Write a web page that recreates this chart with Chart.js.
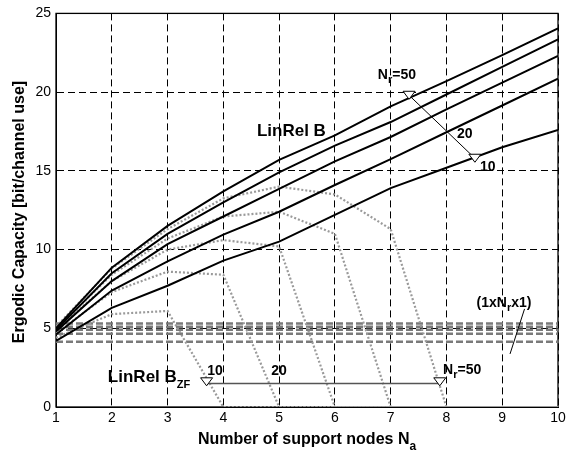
<!DOCTYPE html>
<html><head><meta charset="utf-8">
<script src="https://cdn.jsdelivr.net/npm/chart.js@4.4.0/dist/chart.umd.min.js"></script>
<style>html,body{margin:0;padding:0;background:#fff;} #wrap{width:575px;height:459px;position:relative;}</style>
</head><body><div id="wrap"><canvas id="c" width="575" height="459"></canvas></div>
<script>
// ---- data ----
const supportNodes = [1, 2, 3, 4, 5, 6, 7, 8, 9, 10];
const relayCounts = [10, 20, 30, 40, 50];
// LinRel B (solid black)
const linRelB_Nr10 = [4.2, 6.3, 7.7, 9.3, 10.5, 12.2, 13.9, 15.2, 16.5, 17.6];
const linRelB_Nr20 = [4.6, 7.4, 9.25, 10.95, 12.4, 14.1, 15.75, 17.45, 19.15, 20.85];
const linRelB_Nr30 = [4.8, 8.0, 10.35, 12.1, 13.85, 15.6, 17.15, 18.9, 20.6, 22.3];
const linRelB_Nr40 = [4.9, 8.5, 11.0, 13.0, 14.9, 16.6, 18.1, 19.85, 21.6, 23.35];
const linRelB_Nr50 = [5.0, 8.85, 11.5, 13.7, 15.7, 17.25, 19.1, 20.7, 22.35, 24.05];
// LinRel B_ZF (dotted grey)
const linRelBZF_Nr10 = [4.4, 5.9, 6.1, 0, 0, 0, 0, 0, 0, 0];
const linRelBZF_Nr20 = [4.7, 7.3, 8.6, 8.4, 0, 0, 0, 0, 0, 0];
const linRelBZF_Nr30 = [4.9, 8.0, 10.0, 10.6, 10.2, 0, 0, 0, 0, 0];
const linRelBZF_Nr40 = [5.0, 8.4, 10.7, 12.1, 12.4, 11.0, 0, 0, 0, 0];
const linRelBZF_Nr50 = [5.1, 8.8, 11.3, 13.25, 14.0, 13.5, 11.3, 0, 0, 0];
// (1 x Nr x 1) reference (dashed grey, constant)
const siso_Nr = [4.15, 4.65, 4.9, 5.1, 5.3];
const yTicks = [0, 5, 10, 15, 20, 25];

// ---- build datasets ----
const pts = arr => supportNodes.map((x, i) => ({x: x, y: arr[i]}));
const solidSets = [linRelB_Nr50, linRelB_Nr40, linRelB_Nr30, linRelB_Nr20, linRelB_Nr10];
const dottedSets = [linRelBZF_Nr50, linRelBZF_Nr40, linRelBZF_Nr30, linRelBZF_Nr20, linRelBZF_Nr10];
const datasets = [];
solidSets.forEach(a => datasets.push({data: pts(a), borderColor: '#000', borderWidth: 2, pointRadius: 0, tension: 0, fill: false}));
dottedSets.forEach(a => datasets.push({data: pts(a), borderColor: '#9a9a9a', borderWidth: 2.2, borderDash: [2, 2], pointRadius: 0, tension: 0, fill: false}));
siso_Nr.forEach(v => datasets.push({data: pts(supportNodes.map(() => v)), borderColor: '#7a7a7a', borderWidth: 2.5, borderDash: [7, 3], pointRadius: 0, tension: 0, fill: false}));

const FONT = '"Liberation Sans", Arial, sans-serif';

function drawSub(ctx, x, y, parts, align) {
  // parts: [text, size, dy]
  let total = 0;
  parts.forEach(p => { ctx.font = 'bold ' + p[1] + 'px ' + FONT; total += ctx.measureText(p[0]).width; });
  let cx = align === 'center' ? x - total / 2 : x;
  ctx.textAlign = 'left';
  ctx.textBaseline = 'middle';
  parts.forEach(p => { ctx.font = 'bold ' + p[1] + 'px ' + FONT; ctx.fillText(p[0], cx, y + p[2]); cx += ctx.measureText(p[0]).width; });
}
function tri(ctx, x, y) {
  ctx.beginPath();
  ctx.moveTo(x - 6, y - 4);
  ctx.lineTo(x + 6, y - 4);
  ctx.lineTo(x, y + 4);
  ctx.closePath();
  ctx.fillStyle = '#fff';
  ctx.fill();
  ctx.stroke();
}

const framePlugin = {
  id: 'frame',
  beforeDatasetsDraw(chart) {
    const {ctx, chartArea: a} = chart;
    ctx.save();
    ctx.strokeStyle = '#000';
    ctx.lineWidth = 1.3;
    ctx.strokeRect(a.left, a.top, a.right - a.left, a.bottom - a.top);
    ctx.restore();
  },
  afterDraw(chart) {
    const {ctx, chartArea: a} = chart;
    const xs = chart.scales.x, ys = chart.scales.y;
    const X = v => xs.getPixelForValue(v), Y = v => ys.getPixelForValue(v);
    ctx.save();
    ctx.fillStyle = '#000';
    // upper annotations
    drawSub(ctx, X(5.22), Y(17.5), [['LinRel B', 17, 0]], 'center');
    drawSub(ctx, X(6.77), Y(21.1), [['N', 14, 0], ['r', 11, 5], ['=50', 14, 0]], 'left');
    ctx.strokeStyle = '#000'; ctx.lineWidth = 1;
    ctx.beginPath(); ctx.moveTo(X(7.33), Y(19.8)); ctx.lineTo(X(8.51), Y(15.8)); ctx.stroke();
    tri(ctx, X(7.33), Y(19.8));
    tri(ctx, X(8.51), Y(15.8));
    ctx.fillStyle = '#000';
    drawSub(ctx, X(8.33), Y(17.35), [['20', 14, 0]], 'center');
    drawSub(ctx, X(8.74), Y(15.25), [['10', 14, 0]], 'center');
    // (1xNrx1)
    drawSub(ctx, X(8.54), Y(6.62), [['(1xN', 14, 0], ['r', 11, 5], ['x1)', 14, 0]], 'left');
    ctx.beginPath(); ctx.moveTo(X(9.40), Y(6.23)); ctx.lineTo(X(9.14), Y(3.37)); ctx.stroke();
    // ZF annotations
    drawSub(ctx, X(1.93), Y(1.87), [['LinRel B', 17, 0], ['ZF', 11, 7]], 'left');
    ctx.strokeStyle = '#555'; ctx.lineWidth = 1.5;
    ctx.beginPath(); ctx.moveTo(X(3.70), Y(1.5)); ctx.lineTo(X(7.88), Y(1.5)); ctx.stroke();
    ctx.strokeStyle = '#000'; ctx.lineWidth = 1;
    tri(ctx, X(3.70), Y(1.6));
    tri(ctx, X(7.88), Y(1.6));
    ctx.fillStyle = '#000';
    drawSub(ctx, X(3.85), Y(2.25), [['10', 14, 0]], 'center');
    drawSub(ctx, X(5.0), Y(2.25), [['20', 14, 0]], 'center');
    drawSub(ctx, X(7.94), Y(2.35), [['N', 14, 0], ['r', 11, 5], ['=50', 14, 0]], 'left');
    // axis titles
    drawSub(ctx, (a.left + a.right) / 2, 440, [['Number of support nodes N', 16, 0], ['a', 12, 7]], 'center');
    ctx.translate(20, 212);
    ctx.rotate(-Math.PI / 2);
    drawSub(ctx, 0, 0, [['Ergodic Capacity [bit/channel use]', 16, 0]], 'center');
    ctx.restore();
  }
};

new Chart(document.getElementById('c'), {
  type: 'line',
  data: {datasets: datasets},
  options: {
    responsive: false,
    animation: false,
    devicePixelRatio: 1,
    layout: {padding: {top: 10, right: 17, bottom: 0, left: 0}},
    plugins: {legend: {display: false}, tooltip: {enabled: false}},
    scales: {
      x: {
        type: 'linear', min: 1, max: 10,
        afterFit: s => { s.height = 52; },
        ticks: {stepSize: 1, color: '#000', font: {family: FONT, size: 14}, padding: 3, maxRotation: 0},
        grid: {color: '#000', lineWidth: 1, drawTicks: false},
        border: {display: true, color: '#000', width: 1, dash: [7, 4]}
      },
      y: {
        min: 0, max: 25,
        afterFit: s => { s.width = 56; },
        afterBuildTicks: s => { s.ticks = yTicks.map(v => ({value: v})); },
        ticks: {color: '#000', font: {family: FONT, size: 14}, padding: 5},
        grid: {color: '#000', lineWidth: 1, drawTicks: false},
        border: {display: true, color: '#000', width: 1, dash: [7, 4]}
      }
    }
  },
  plugins: [framePlugin]
});
</script>
</body></html>
